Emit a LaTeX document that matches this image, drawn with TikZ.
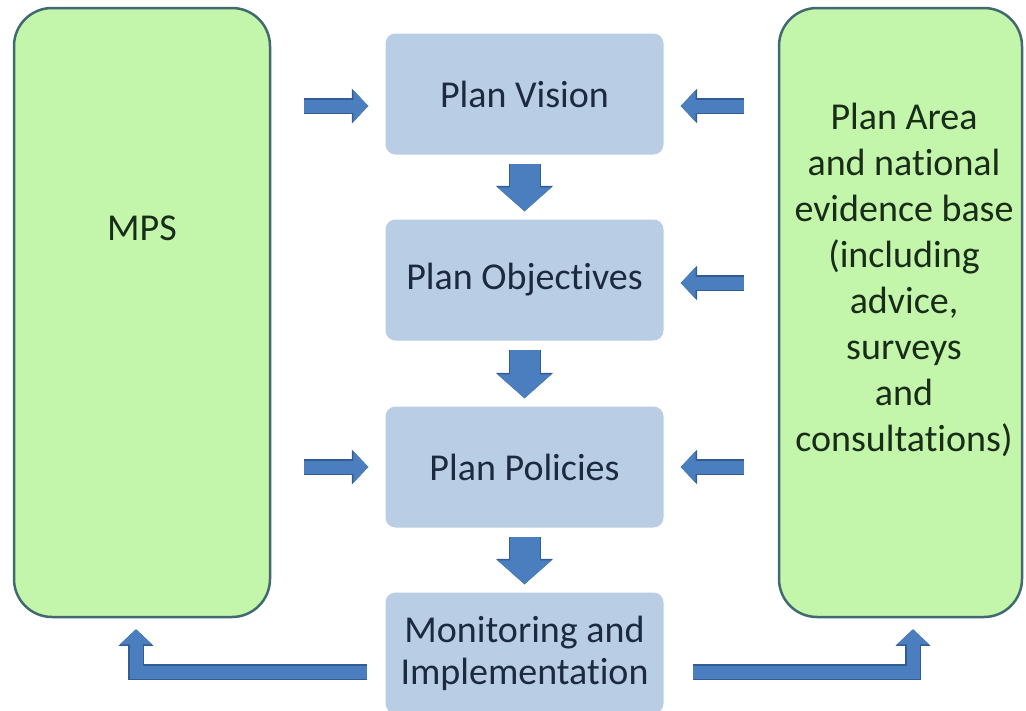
\documentclass[tikz,border=0pt]{standalone}
\usepackage{fontspec}
\setmainfont{Carlito}[Ligatures=NoCommon, Contextuals=NoAlternate]
\usetikzlibrary{arrows.meta,calc}

\definecolor{sidefill}{HTML}{C3F5AA}
\definecolor{sideedge}{HTML}{406A70}
\definecolor{stepfill}{HTML}{B9CDE5}
\definecolor{arrowfill}{HTML}{4A7EBF}
\definecolor{arrowedge}{HTML}{325D92}
\definecolor{textblue}{HTML}{1B2A3F}
\definecolor{textgreen}{HTML}{182C18}

\begin{document}
\begin{tikzpicture}[x=1pt,y=-1pt]
    \tikzset{sidebox/.style = {draw=sideedge, line width=2.5pt, fill=sidefill, rounded corners=38pt, minimum width=256pt, minimum height=609pt, inner sep=0pt}}
    \tikzset{sidetext/.style = {text=textgreen, align=center, font=\fontsize{38}{46}\selectfont}}
    \tikzset{stepbox/.style = {fill=stepfill, rounded corners=10pt, minimum width=278pt, minimum height=121pt, inner sep=0pt, text=textblue, align=center, font=\fontsize{38}{42}\selectfont}}
    \tikzset{harrow/.style = {draw=arrowfill, line width=13pt, -{Triangle[length=15pt,width=31pt]},
        preaction={draw=arrowedge, line width=15.5pt, -{Triangle[length=16.5pt,width=34pt]}}}}
    \tikzset{varrow/.style = {draw=arrowfill, line width=30pt, -{Triangle[length=24pt,width=53pt]},
        preaction={draw=arrowedge, line width=32pt, -{Triangle[length=25.5pt,width=56pt]}}}}
    \useasboundingbox (0,0) rectangle (1026,710);

    % boxes
    \node[sidebox] (mps) at (142,312.5) {};
    \node[sidebox, minimum width=243pt] (evid) at (900.5,312.5) {};
    \node[sidetext] (mpstext) at (142,228) {MPS};
    \node[sidetext] (evidtext) at (904,280) {Plan Area\\and national\\evidence base\\(including\\advice,\\surveys\\and\\consultations)};
    \node[stepbox] (vision) at (524.5,94) {Plan Vision};
    \node[stepbox] (obj) at (524.5,280) {Plan Objectives};
    \node[stepbox] (pol) at (524.5,467) {Plan Policies};
    \node[stepbox] (mon) at (524.5,653) {Monitoring and\\Implementation};

    % arrows
    \draw[harrow, shorten <=33pt, shorten >=17pt] ($(vision.west -| mps.east)+(0,12)$) -- ($(vision.west)+(0,12)$);
    \draw[harrow, shorten <=33pt, shorten >=17pt] (pol.west -| mps.east) -- (pol.west);
    \draw[harrow, shorten <=34pt, shorten >=17pt] ($(vision.east -| evid.west)+(0,12)$) -- ($(vision.east)+(0,12)$);
    \draw[harrow, shorten <=34pt, shorten >=17pt] ($(obj.east -| evid.west)+(0,3)$) -- ($(obj.east)+(0,3)$);
    \draw[harrow, shorten <=34pt, shorten >=17pt] (pol.east -| evid.west) -- (pol.east);
    \draw[varrow, shorten <=9pt, shorten >=8pt] (vision.south) -- (obj.north);
    \draw[varrow, shorten <=9pt, shorten >=8pt] (obj.south) -- (pol.north);
    \draw[varrow, shorten <=9pt, shorten >=8pt] (pol.south) -- (mon.north);
    \draw[harrow, shorten <=18pt, shorten >=11pt] ($(mon.west)+(0,19)$) -| ($(mps.south)+(-6,0)$);
    \draw[harrow, shorten <=29pt, shorten >=11pt] ($(mon.east)+(0,19)$) -| ($(evid.south)+(12.5,0)$);
\end{tikzpicture}
\end{document}
